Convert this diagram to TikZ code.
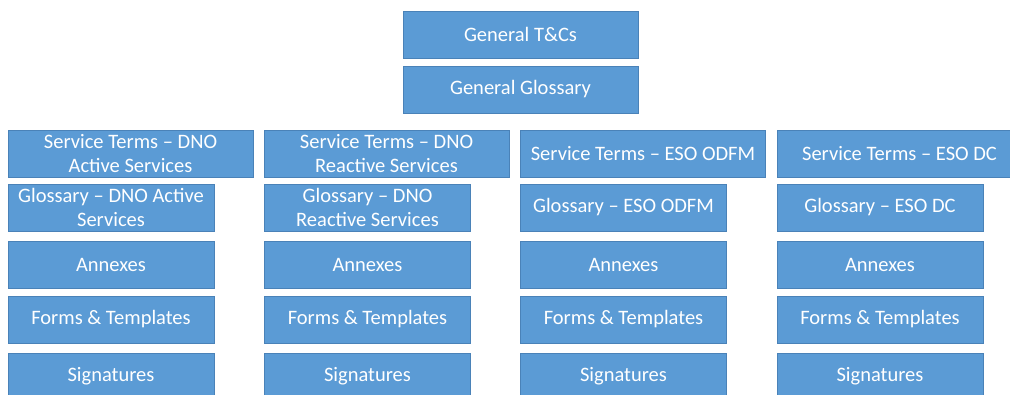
\documentclass[tikz,border=0pt]{standalone}
\usepackage{fontspec}
\setmainfont{Carlito}
\usepackage{xcolor}
\usepackage{tikz}

\definecolor{boxblue}{HTML}{5B9BD5}
\definecolor{boxedge}{HTML}{4A82B8}

\tikzset{
  docbox/.style={draw=boxedge, line width=1pt, fill=boxblue, text=white,
    align=center, inner sep=0pt, minimum height=47pt,
    font=\fontsize{20.5}{24}\selectfont},
  termbox/.style={docbox, minimum width=245pt},
  partbox/.style={docbox, minimum width=206pt}
}

\begin{document}
\begin{tikzpicture}[x=1pt, y=-1pt]
  \useasboundingbox (0,0) rectangle (1010,394);
  \clip (0,0) rectangle (1010,394);

  % General documents
  \node[docbox, minimum width=235pt] (tandc) at (520.5,34.5) {General T\&Cs};
  \node[docbox, minimum width=235pt] (genglos) at (520.5,89.5) {General Glossary};

  % Service terms
  \node[termbox] (dnoact) at (130.5,153.5) {Service Terms -- DNO\\Active Services};
  \node[termbox] (dnoreact) at (386.5,153.5) {Service Terms -- DNO\\Reactive Services};
  \node[termbox] (esoodfm) at (643,153.5) {Service Terms -- ESO ODFM};
  \node[termbox] (esodc) at (899.5,153.5) {Service Terms -- ESO DC};

  % Glossaries
  \node[partbox] (glosact) at (111,207.5) {Glossary -- DNO Active\\Services};
  \node[partbox] (glosreact) at (367.5,207.5) {Glossary -- DNO\\Reactive Services};
  \node[partbox] (glosodfm) at (623.5,207.5) {Glossary -- ESO ODFM};
  \node[partbox] (glosdc) at (880,207.5) {Glossary -- ESO DC};

  % Annexes
  \node[partbox] (annact) at (111,265) {Annexes};
  \node[partbox] (annreact) at (367.5,265) {Annexes};
  \node[partbox] (annodfm) at (623.5,265) {Annexes};
  \node[partbox] (anndc) at (880,265) {Annexes};

  % Forms
  \node[partbox] (formact) at (111,319.5) {Forms \& Templates};
  \node[partbox] (formreact) at (367.5,319.5) {Forms \& Templates};
  \node[partbox] (formodfm) at (623.5,319.5) {Forms \& Templates};
  \node[partbox] (formdc) at (880,319.5) {Forms \& Templates};

  % Signatures
  \node[partbox] (sigact) at (111,376.5) {Signatures};
  \node[partbox] (sigreact) at (367.5,376.5) {Signatures};
  \node[partbox] (sigodfm) at (623.5,376.5) {Signatures};
  \node[partbox] (sigdc) at (880,376.5) {Signatures};
\end{tikzpicture}
\end{document}
